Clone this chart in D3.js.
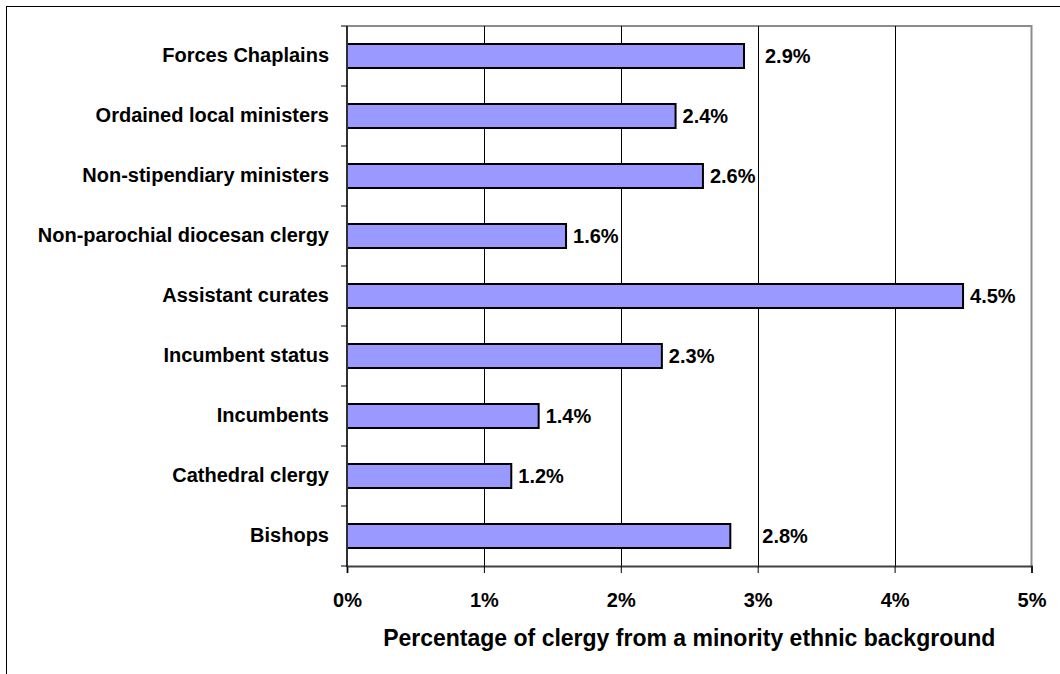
<!DOCTYPE html>
<html>
<head>
<meta charset="utf-8">
<script src="https://cdn.jsdelivr.net/npm/d3@7"></script>
<style>
  html, body { margin: 0; padding: 0; background: #fff; }
  svg { display: block; }
  text { font-family: "Liberation Sans", Arial, sans-serif; font-weight: bold; fill: #000; }
</style>
</head>
<body>
<svg id="chart" width="1060" height="674"></svg>
<script>
// Clergy groups, listed top to bottom as drawn
const categories = [
  "Forces Chaplains",
  "Ordained local ministers",
  "Non-stipendiary ministers",
  "Non-parochial diocesan clergy",
  "Assistant curates",
  "Incumbent status",
  "Incumbents",
  "Cathedral clergy",
  "Bishops"
];
// Percentage from a minority ethnic background
const values = [2.9, 2.4, 2.6, 1.6, 4.5, 2.3, 1.4, 1.2, 2.8];
const tickValues = [0, 1, 2, 3, 4, 5];
const tickLabels = ["0%", "1%", "2%", "3%", "4%", "5%"];
const axisTitle = "Percentage of clergy from a minority ethnic background";

const svg = d3.select("#chart");
const plot = { left: 347, right: 1031.5, top: 26, bottom: 566 };

// Outer chart frame
svg.append("rect")
  .attr("x", 6.5).attr("y", 6.5)
  .attr("width", 1070).attr("height", 700)
  .attr("fill", "none").attr("stroke", "#000").attr("stroke-width", 1);

const x = d3.scaleLinear().domain([0, 5]).range([plot.left, plot.right]);
const y = d3.scaleBand().domain(categories)
  .range([plot.top, plot.bottom])
  .paddingInner(0.6).paddingOuter(0.3);

// Plot frame (top and right edges)
svg.append("path")
  .attr("d", `M${plot.left},${plot.top}H${plot.right}V${plot.bottom}`)
  .attr("fill", "none").attr("stroke", "#8c8c8c").attr("stroke-width", 2);

// Vertical gridlines
svg.append("g").selectAll("line")
  .data(tickValues.filter(v => v > 0 && v < 5))
  .join("line")
  .attr("x1", d => Math.round(x(d)) + 0.5).attr("x2", d => Math.round(x(d)) + 0.5)
  .attr("y1", plot.top).attr("y2", plot.bottom)
  .attr("stroke", "#000").attr("stroke-width", 1);

// Bars
svg.append("g").selectAll("rect")
  .data(categories)
  .join("rect")
  .attr("x", x(0))
  .attr("y", d => y(d))
  .attr("width", (d, i) => x(values[i]) - x(0))
  .attr("height", y.bandwidth())
  .attr("fill", "#9999ff")
  .attr("stroke", "#000")
  .attr("stroke-width", 2);

// Value labels (a couple sit further out from their bars)
const labelShift = { "Forces Chaplains": 14, "Bishops": 25 };
svg.append("g").selectAll("text")
  .data(categories)
  .join("text")
  .attr("x", (d, i) => x(values[i]) + 7 + (labelShift[d] || 0))
  .attr("y", d => y(d) + y.bandwidth() / 2)
  .attr("dy", "0.35em")
  .attr("font-size", 20)
  .text((d, i) => d3.format(".1f")(values[i]) + "%");

// Bottom axis
const xAxis = d3.axisBottom(x)
  .tickValues(tickValues)
  .tickFormat((d, i) => tickLabels[i])
  .tickSize(7)
  .tickPadding(20);
const gx = svg.append("g")
  .attr("transform", `translate(0,${plot.bottom})`)
  .call(xAxis);
gx.select(".domain").attr("stroke", "#404040").attr("stroke-width", 2);
gx.selectAll(".tick line").attr("stroke", "#000");
gx.selectAll(".tick text")
  .attr("font-size", 20)
  .attr("font-family", "Liberation Sans, Arial, sans-serif")
  .attr("font-weight", "bold");

// Left axis: category labels
const yAxis = d3.axisLeft(y).tickSize(0).tickPadding(18);
const gy = svg.append("g")
  .attr("transform", `translate(${plot.left},0)`)
  .call(yAxis);
gy.select(".domain").remove();
gy.selectAll(".tick text")
  .attr("font-size", 20)
  .attr("font-family", "Liberation Sans, Arial, sans-serif")
  .attr("font-weight", "bold");

// Left axis line with ticks on category boundaries
const boundaries = d3.range(categories.length + 1).map(i => y.range()[0] + i * y.step());
svg.append("line")
  .attr("x1", plot.left).attr("x2", plot.left)
  .attr("y1", plot.top).attr("y2", plot.bottom + 1)
  .attr("stroke", "#303030").attr("stroke-width", 2);
svg.append("g").selectAll("line")
  .data(boundaries)
  .join("line")
  .attr("x1", plot.left - 6).attr("x2", plot.left)
  .attr("y1", d => d).attr("y2", d => d)
  .attr("stroke", "#000").attr("stroke-width", 1);

// Axis title
svg.append("text")
  .attr("x", (plot.left + plot.right) / 2)
  .attr("y", 646)
  .attr("text-anchor", "middle")
  .attr("font-size", 23)
  .text(axisTitle);
</script>
</body>
</html>
